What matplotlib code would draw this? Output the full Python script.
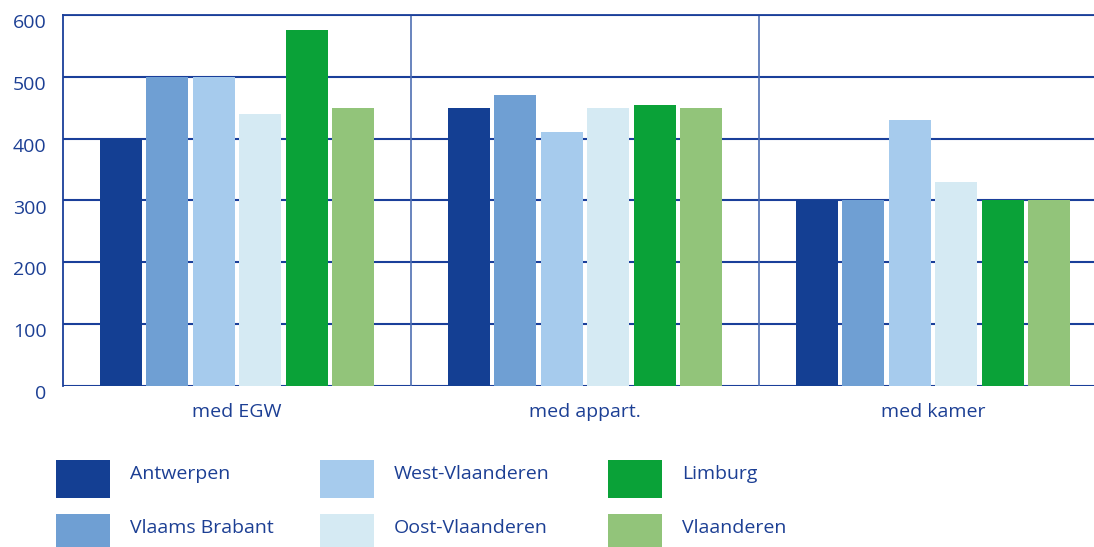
import matplotlib
matplotlib.use("Agg")
import matplotlib.pyplot as plt
import matplotlib.transforms as mtransforms
from matplotlib.patches import Rectangle
import numpy as np

categories = ["med EGW", "med appart.", "med kamer"]
regions = ["Antwerpen", "Vlaams Brabant", "West-Vlaanderen",
           "Oost-Vlaanderen", "Limburg", "Vlaanderen"]
antwerpen = [400, 450, 300]
vlaams_brabant = [500, 470, 300]
west_vlaanderen = [500, 410, 430]
oost_vlaanderen = [440, 450, 330]
limburg = [575, 455, 300]
vlaanderen = [450, 450, 300]
yticks = [0, 100, 200, 300, 400, 500, 600]

series = [antwerpen, vlaams_brabant, west_vlaanderen,
          oost_vlaanderen, limburg, vlaanderen]
colors = ["#143f93", "#6f9fd3", "#a6cbed", "#d5eaf3", "#0aa238", "#92c47a"]
text_color = "#1c3f94"
grid_color = "#1a3f9a"

plt.rcParams["font.family"] = ["Open Sans", "DejaVu Sans"]

W, H = 1094, 547
fig = plt.figure(figsize=(W / 100, H / 100), dpi=100)
ax = fig.add_axes([63 / W, 1 - 386 / H, 1044 / W, 371 / H])

x = np.arange(len(categories))
bar_w = 0.121
step = 0.1335
for i, (vals, col) in enumerate(zip(series, colors)):
    offs = (i - (len(series) - 1) / 2) * step
    ax.bar(x + offs, vals, width=bar_w, color=col, zorder=3, linewidth=0)

ax.set_xlim(-0.5, len(categories) - 0.5)
ax.set_ylim(0, 600)
ax.set_yticks(yticks)
ax.set_yticklabels([str(t) for t in yticks])
ax.set_xticks(x)
ax.set_xticklabels(categories)

# horizontal grid lines
for t in yticks:
    ax.axhline(t, color=grid_color, lw=1.5, zorder=1)
# category separators
for b in np.arange(0.5, len(categories) - 0.5, 1):
    ax.axvline(b, color="#4f6fb3", lw=1.2, zorder=1)

for side in ["left", "top", "right"]:
    ax.spines[side].set_color("#4f6fb3")
    ax.spines[side].set_linewidth(1.3)
ax.spines["bottom"].set_visible(False)
ax.spines["left"].set_color(grid_color)
ax.spines["top"].set_color(grid_color)

ax.tick_params(axis="both", length=0, colors=text_color, labelsize=14)
ax.tick_params(axis="y", pad=12)
ax.tick_params(axis="x", pad=12)
shift = mtransforms.ScaledTranslation(0, -6 / 100, fig.dpi_scale_trans)
for lab in ax.get_yticklabels():
    lab.set_transform(lab.get_transform() + shift)

# legend: three columns, two rows
col_x = [56, 320, 608]
row_y = [460, 514]
for i, (name, col) in enumerate(zip(regions, colors)):
    c, r = divmod(i, 2)
    x0 = col_x[c]
    y0 = row_y[r]
    fig.add_artist(Rectangle((x0 / W, 1 - (y0 + 38) / H), 54 / W, 38 / H,
                             transform=fig.transFigure, color=col, lw=0))
    fig.text((x0 + 74) / W, 1 - (y0 + 14) / H, name, color=text_color,
             fontsize=14, va="center", ha="left")

fig.savefig("out.png", dpi=100)
